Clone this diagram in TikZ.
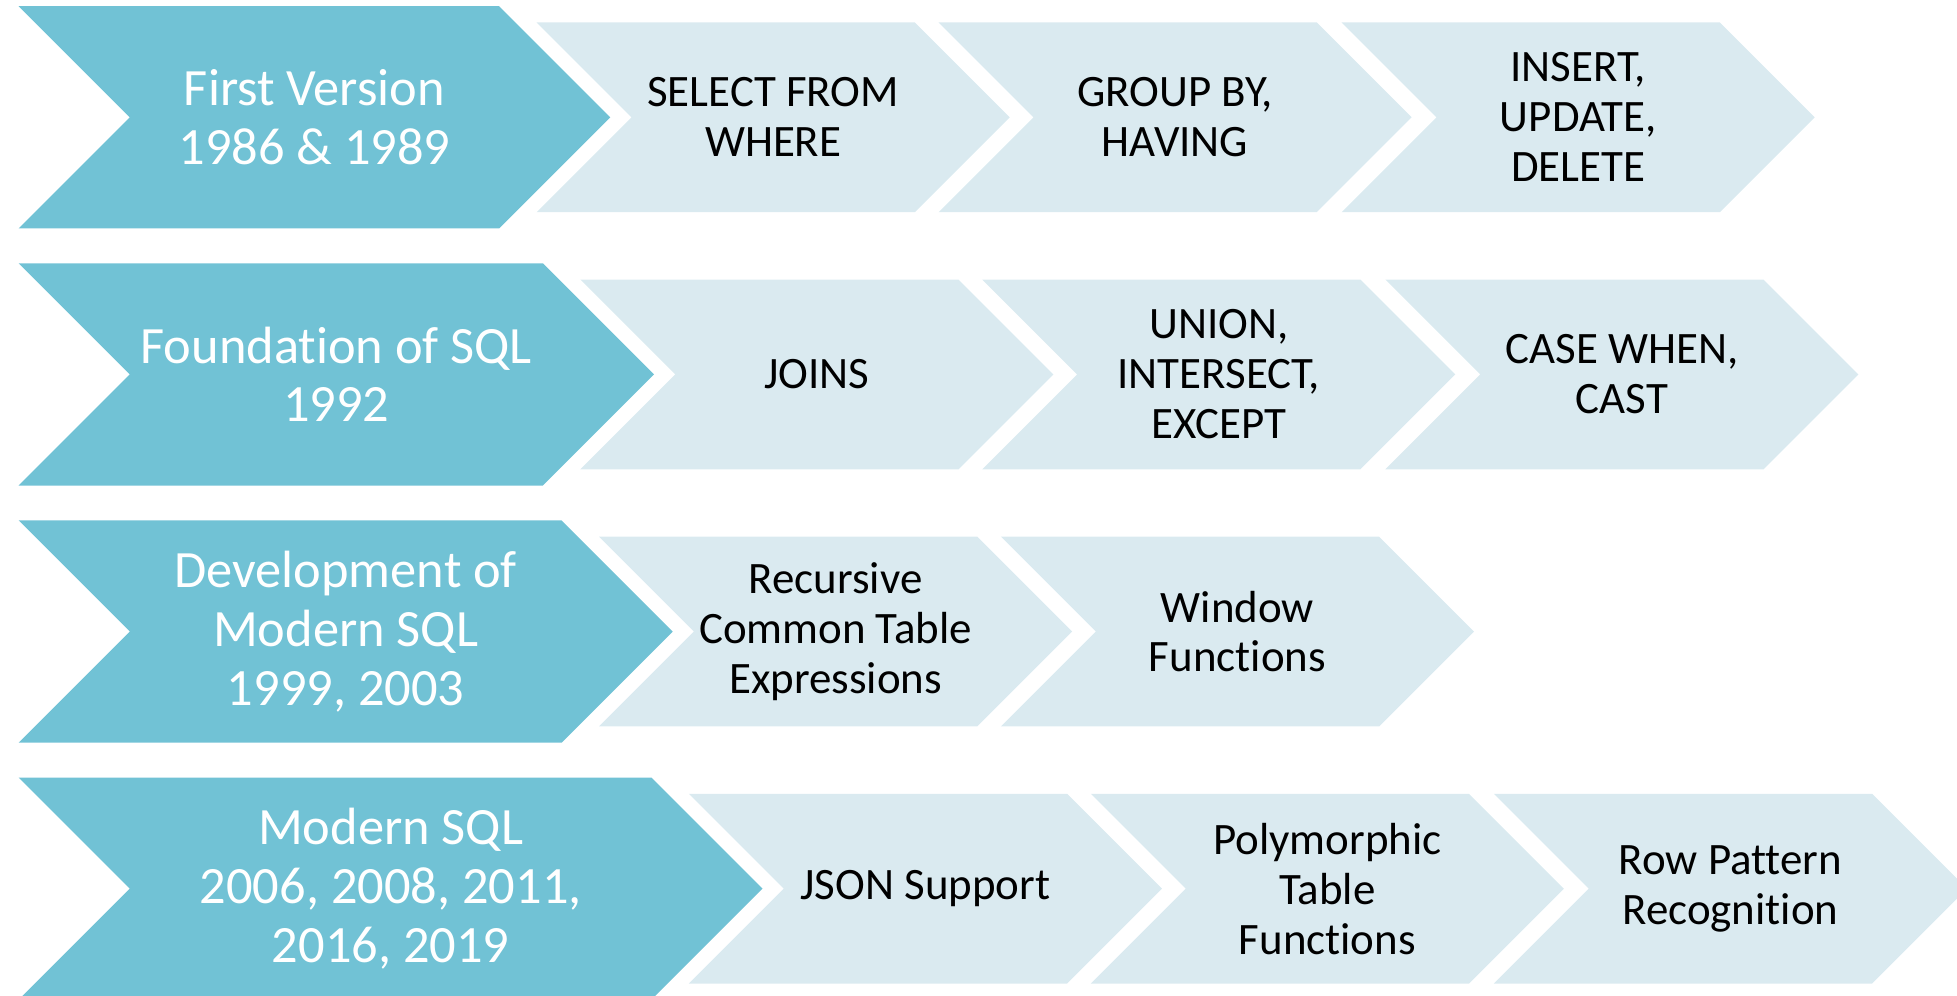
\documentclass[tikz,border=0pt]{standalone}
\usepackage{fontspec}
\setmainfont{Carlito}[Ligatures=NoCommon]
\definecolor{stageblue}{RGB}{113,194,213}
\definecolor{itemblue}{RGB}{218,234,240}
% name, kind, left x, right x, top y, height, text
\newcommand{\chevronbox}[7]{%
  \pgfmathsetmacro{\halfh}{#6/2}
  \fill[#2 box] (#3,#5) -- (#4,#5) -- ++(\halfh,\halfh) -- ++(-\halfh,\halfh)
    -- (#3,#5+#6) -- ++(\halfh,-\halfh) -- cycle;
  \node[#2 label] (#1) at ({(#3+#4+\halfh)/2},{#5+\halfh}) {#7};
}

\begin{document}
\begin{tikzpicture}[x=1pt,y=-1pt]
  \tikzset{
    dark box/.style={fill=stageblue},
    light box/.style={fill=itemblue},
    dark label/.style={text=white,align=center,font={\fontsize{42}{47}\selectfont}},
    light label/.style={text=black,align=center,font={\fontsize{36}{40}\selectfont}}
  }
  \useasboundingbox (0,0) rectangle (1568,798);

  \chevronbox{first}{dark}{15}{400}{5}{178}{First Version\\1986 \& 1989}
  \chevronbox{select}{light}{430}{733}{18}{152}{SELECT FROM\\WHERE}
  \chevronbox{groupby}{light}{752}{1055}{18}{152}{GROUP BY,\\HAVING}
  \chevronbox{insert}{light}{1075}{1378}{18}{152}{INSERT,\\UPDATE,\\DELETE}

  \chevronbox{foundation}{dark}{15}{435}{211}{178}{Foundation of SQL\\1992}
  \chevronbox{joins}{light}{465}{768}{224}{152}{JOINS}
  \chevronbox{union}{light}{787}{1090}{224}{152}{UNION,\\INTERSECT,\\EXCEPT}
  \chevronbox{casewhen}{light}{1110}{1413}{224}{152}{CASE WHEN,\\CAST}

  \chevronbox{development}{dark}{15}{450}{417}{178}{Development of\\Modern SQL\\1999, 2003}
  \chevronbox{recursive}{light}{480}{783}{430}{152}{Recursive\\Common Table\\Expressions}
  \chevronbox{window}{light}{802}{1105}{430}{152}{Window\\Functions}

  \chevronbox{modern}{dark}{15}{522}{623}{178}{Modern SQL\\2006, 2008, 2011,\\2016, 2019}
  \chevronbox{json}{light}{552}{855}{636}{152}{JSON Support}
  \chevronbox{polymorphic}{light}{874}{1177}{636}{152}{Polymorphic\\Table\\Functions}
  \chevronbox{rowpattern}{light}{1197}{1500}{636}{152}{Row Pattern\\Recognition}
\end{tikzpicture}
\end{document}
